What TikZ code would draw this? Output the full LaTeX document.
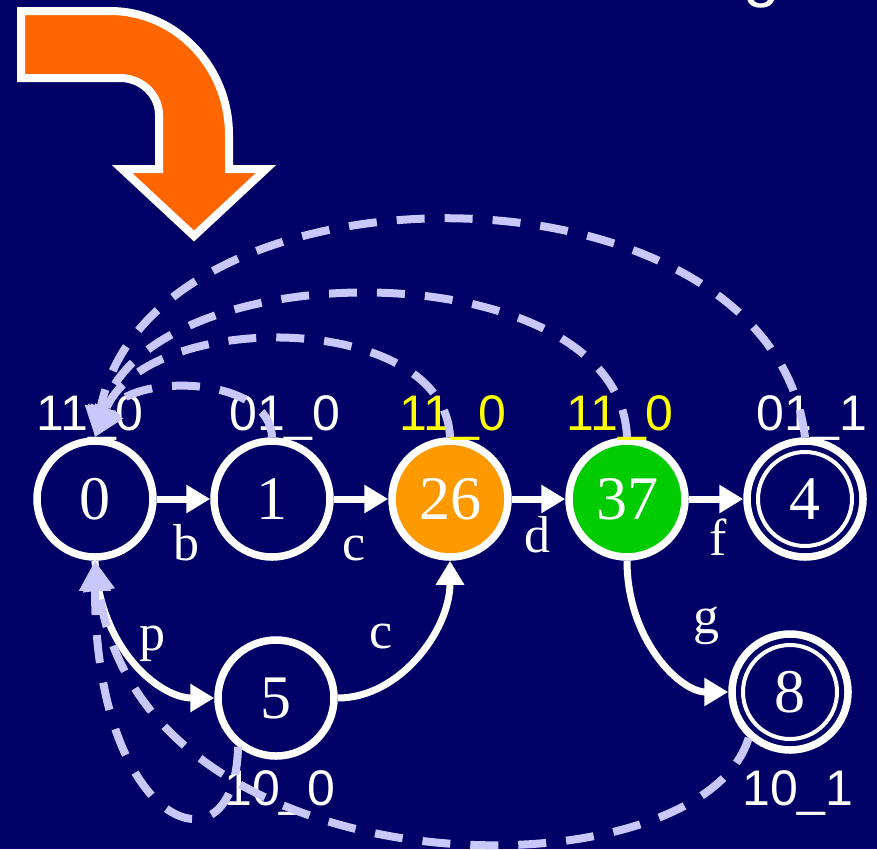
\documentclass[tikz,border=0pt]{standalone}
\usepackage{fontspec}
\setmainfont{Liberation Serif}
\newfontfamily\labelsans{Liberation Sans}
\usetikzlibrary{arrows.meta}
\definecolor{navy}{HTML}{000066}
\definecolor{bendorange}{HTML}{FF6600}
\definecolor{amber}{HTML}{FF9900}
\definecolor{leaf}{HTML}{00CC00}
\definecolor{failblue}{HTML}{C8C8FF}
\definecolor{hilite}{HTML}{FFFF00}

\begin{document}
\begin{tikzpicture}[x=1pt,y=-1pt,
  state/.style={circle, draw=white, fill=navy, line width=7.5pt, minimum size=116pt,
    inner sep=0pt, text=white, font=\fontsize{62}{62}\selectfont},
  ring/.style={draw=white, line width=4pt},
  trans/.style={draw=white, line width=7pt, -{Triangle[length=24pt,width=27pt]}},
  fail/.style={draw=failblue, line width=8pt, dash pattern=on 28pt off 20pt,
    -{Triangle[length=30pt,width=30pt]}},
  sym/.style={text=white, font=\fontsize{52}{52}\selectfont, anchor=base},
  code/.style={text=white, font=\labelsans\fontsize{50}{50}\selectfont, anchor=base},
]
% background and page frame
\fill[navy] (0,0) rectangle (877,849);
\useasboundingbox (0,0) rectangle (877,849);

% descender of the title line above
\node[anchor=base, text=white, font=\labelsans\fontsize{66}{66}\selectfont] (title) at (762,-6) {g};

% bent orange arrow
\filldraw[fill=bendorange, draw=white, line width=8pt, line join=miter]
  (21,11) -- (110,11)
  .. controls (175.7,11) and (229,66.5) .. (229,135)
  -- (229,169) -- (266,169) -- (194,236) -- (122,169) -- (159,169) -- (159,115)
  .. controls (159,94.6) and (141.5,78) .. (120,78)
  -- (21,78) -- cycle;

% states
\node[state] (n0) at (95,499) {0};
\node[state] (n1) at (272,499) {1};
\node[state, fill=amber] (n26) at (450,499) {26};
\node[state, fill=leaf] (n37) at (627,499) {37};
\node[state] (n4) at (805,499) {4};
\node[state] (n5) at (276,698) {5};
\node[state] (n8) at (790,692) {8};
\draw[ring] (n4.center) circle[radius=47];
\draw[ring] (n8.center) circle[radius=47];

% goto transitions
\draw[trans] (n0) -- (n1);
\draw[trans] (n1) -- (n26);
\draw[trans] (n26) -- (n37);
\draw[trans] (n37) -- (n4);
\draw[trans] (n0.south) .. controls (100,650) and (160,698) .. (n5.west);
\draw[trans] (n5.east) .. controls (400,698) and (450,630) .. (n26.south);
\draw[trans] (n37.south) .. controls (627,640) and (680,692) .. (n8.west);

% transition symbols
\node[sym] (lb) at (186,560) {b};
\node[sym] (lc1) at (354,560) {c};
\node[sym] (ld) at (537,552) {d};
\node[sym] (lf) at (718,555) {f};
\node[sym] (lp) at (152,650) {p};
\node[sym] (lc2) at (381,648) {c};
\node[sym] (lg) at (706,633) {g};

% state codes
\node[code] (k0) at (90,430) {11\_0};
\node[code] (k1) at (285,430) {01\_0};
\node[code, text=hilite] (k26) at (453,430) {11\_0};
\node[code, text=hilite] (k37) at (620,430) {11\_0};
\node[code] (k4) at (812,430) {01\_1};
\node[code] (k5) at (280,805) {10\_0};
\node[code] (k8) at (798,805) {10\_1};

% failure links
\draw[fail] (n1.north) .. controls (270,375) and (130,372) .. (n0.north);
\draw[fail] (n26.north) .. controls (445,310) and (145,308) .. (n0.north);
\draw[fail] (n37.north) .. controls (620,250) and (150,248) .. (n0.north);
\draw[fail] (n4.north) .. controls (770,150) and (150,150) .. (n0.north);
\draw[fail] (n5.232) .. controls (236,880) and (95,830) .. (n0.south);
\draw[fail] (n8.228) .. controls (700,900) and (140,900) .. (n0.south);
\end{tikzpicture}
\end{document}
